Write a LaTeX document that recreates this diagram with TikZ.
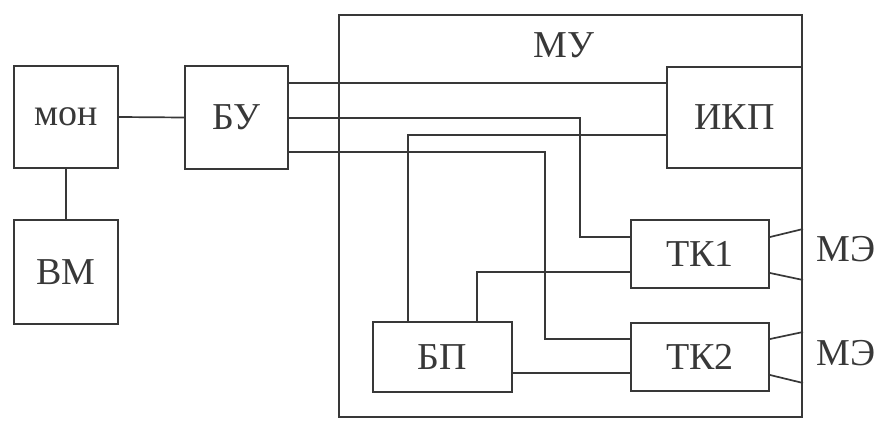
\documentclass[tikz,border=0pt]{standalone}
\usepackage{fontspec}
\setmainfont{Liberation Serif}
\definecolor{ln}{gray}{0.22}
\begin{document}
\begin{tikzpicture}[x=1pt,y=-1pt,
  box/.style={draw=ln, line width=2pt, inner sep=0pt, text=ln, font=\fontsize{38}{40}\selectfont},
  wire/.style={draw=ln, line width=1.7pt},
  lbl/.style={text=ln, inner sep=0pt, font=\fontsize{38}{40}\selectfont}]
\useasboundingbox (0,0) rectangle (880,425);
\node[box, minimum width=463pt, minimum height=402pt] (mu) at (570.5,216) {};
\node[lbl] (mulbl) at (564,45) {МУ};
\node[box, minimum width=104pt, minimum height=102pt] (mon) at (66,117) {мон};
\node[box, minimum width=104pt, minimum height=104pt] (vm) at (66,272) {ВМ};
\node[box, minimum width=103pt, minimum height=103pt] (bu) at (236.5,117.5) {БУ};
\node[box, minimum width=135pt, minimum height=101pt] (ikp) at (734.5,117.5) {ИКП};
\node[box, minimum width=138pt, minimum height=68pt] (tk1) at (700,254) {ТК1};
\node[box, minimum width=138pt, minimum height=68pt] (tk2) at (700,357) {ТК2};
\node[box, minimum width=139pt, minimum height=70pt] (bp) at (442.5,357) {БП};
\node[lbl] (me1) at (846,249) {МЭ};
\node[lbl] (me2) at (846,353) {МЭ};
% helper coordinates
\coordinate (ya) at (0,83);
\coordinate (yb) at (0,118);
\coordinate (yc) at (0,152);
\coordinate (c1) at (580,118);
\coordinate (c2) at (580,237);
\coordinate (c3) at (545,152);
\coordinate (c4) at (545,339);
\coordinate (c5) at (408,135);
\coordinate (c6) at (477,272);
\coordinate (xa) at (408,0);
\coordinate (xb) at (477,0);
\coordinate (t1a) at (0,237);
\coordinate (t1b) at (0,273);
\coordinate (t2a) at (0,339);
\coordinate (t2b) at (0,375);
\coordinate (m1a) at (0,229);
\coordinate (m1b) at (0,280);
\coordinate (m2a) at (0,332);
\coordinate (m2b) at (0,383);
\coordinate (y373) at (0,373);
% wires
\draw[wire] (mon.east) -- (bu.west);
\draw[wire] (mon.south) -- (vm.north);
\draw[wire] (bu.east |- ya) -- (ikp.west |- ya);
\draw[wire] (bu.east |- yb) -- (c1) -- (c2) -- (tk1.west |- c2);
\draw[wire] (bu.east |- yc) -- (c3) -- (c4) -- (tk2.west |- c4);
\draw[wire] (bp.north -| xa) -- (c5) -- (ikp.west |- c5);
\draw[wire] (bp.north -| xb) -- (c6) -- (tk1.west |- c6);
\draw[wire] (bp.east |- y373) -- (tk2.west |- y373);
\draw[wire] (tk1.east |- t1a) -- (mu.east |- m1a);
\draw[wire] (tk1.east |- t1b) -- (mu.east |- m1b);
\draw[wire] (tk2.east |- t2a) -- (mu.east |- m2a);
\draw[wire] (tk2.east |- t2b) -- (mu.east |- m2b);
\end{tikzpicture}
\end{document}
